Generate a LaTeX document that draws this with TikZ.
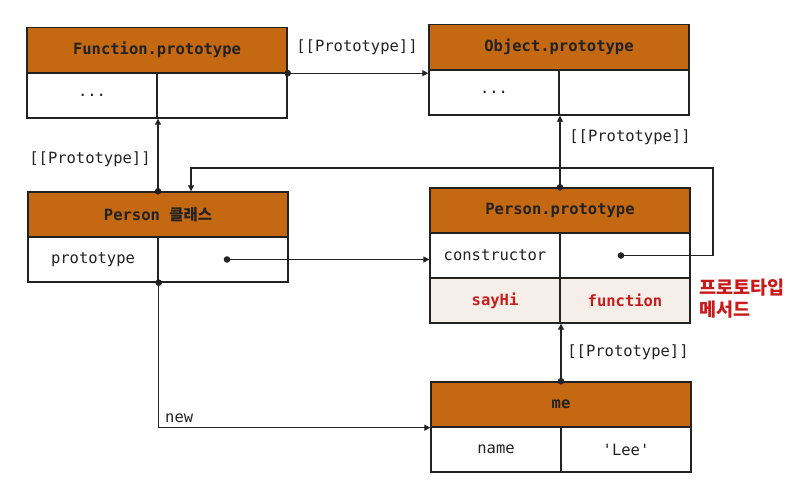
\documentclass[tikz,border=0pt]{standalone}
\usepackage{fontspec}
\setmonofont{DejaVu Sans Mono}
\newfontfamily\kr{Noto Sans CJK KR}
\usetikzlibrary{arrows.meta}
\definecolor{hdr}{RGB}{197,104,18}
\definecolor{lightrow}{RGB}{246,239,233}
\definecolor{redtxt}{RGB}{200,28,28}
\definecolor{ink}{RGB}{34,34,34}
\begin{document}
\begin{tikzpicture}[x=1pt,y=-1pt,
  hdrbox/.style={draw=ink, line width=1.4pt, fill=hdr, minimum width=260pt, minimum height=45pt, inner sep=0pt, text=ink, font=\ttfamily\bfseries\fontsize{15.5}{18}\selectfont},
  cellbox/.style={draw=ink, line width=1.4pt, fill=white, minimum width=130pt, minimum height=45pt, inner sep=0pt, text=ink, font=\ttfamily\fontsize{15.5}{18}\selectfont},
  redcell/.style={cellbox, fill=lightrow, text=redtxt, font=\ttfamily\bfseries\fontsize{15.5}{18}\selectfont},
  conn/.style={draw=ink, line width=1.3pt, -{Triangle[length=6pt,width=6pt]}},
  lbl/.style={text=ink, inner sep=0pt, font=\ttfamily\fontsize{15.5}{18}\selectfont},
  dotfill/.style={fill=ink}]
\useasboundingbox (0,0) rectangle (803,486);
% Function.prototype
\node[cellbox] (fpl) at (92,95.5) {...};
\node[cellbox] (fpr) at (222,95.5) {};
\node[hdrbox] (fph) at (157,50) {Function.prototype};
% Object.prototype
\node[cellbox] (opl) at (494,92.5) {...};
\node[cellbox] (opr) at (624,92.5) {};
\node[hdrbox] (oph) at (559,47) {Object.prototype};
% Person class
\node[cellbox] (pcl) at (93,259.5) {prototype};
\node[cellbox] (pcr) at (223,259.5) {};
\node[hdrbox] (pch) at (158,214.5) {Person {\kr\bfseries 클래스}};
% Person.prototype
\node[cellbox] (ppl1) at (495,255.5) {constructor};
\node[cellbox] (ppr1) at (625,255.5) {};
\node[redcell] (ppl2) at (495,300.5) {sayHi};
\node[redcell] (ppr2) at (625,300.5) {function};
\node[hdrbox] (pph) at (560,210.5) {Person.prototype};
% me
\node[cellbox] (mel) at (496,449.5) {name};
\node[cellbox] (mer) at (626,449.5) {'Lee'};
\node[hdrbox] (meh) at (561,404.5) {me};
% red label
\node[text=redtxt, align=left, anchor=north west, inner sep=0pt, font=\kr\bfseries\fontsize{18.5}{22}\selectfont] (lblm) at (699,279) {프로토타입\\메서드};
% labels
\node[lbl] (l1) at (357,47) {[[Prototype]]};
\node[lbl] (l2) at (90,159) {[[Prototype]]};
\node[lbl] (l3) at (630,137) {[[Prototype]]};
\node[lbl] (l4) at (628,352) {[[Prototype]]};
\node[lbl, anchor=south west] (l5) at (165,423) {new};
% connectors
\coordinate (c1) at (713,168);
\draw[conn] (fph.south east) -- (fph.south east -| opl.west);
\draw[conn] (pch.north) -- (pch.north |- fpl.south);
\draw[conn] (pph.north) -- (pph.north |- opl.south);
\draw[conn] (meh.north) -- (meh.north |- ppr2.south);
\draw[conn] ([xshift=4pt]pcr.center) -- (pcr.center -| ppl1.west);
\draw[conn] ([xshift=-4pt]ppr1.center) -| (c1) -| ([xshift=33pt]pch.north);
\draw[conn] (pcl.south east) |- (meh.south west);
% dots
\fill[dotfill] (fph.south east) circle (3.3pt);
\fill[dotfill] (pch.north) circle (3.3pt);
\fill[dotfill] (pph.north) circle (3.3pt);
\fill[dotfill] (meh.north) circle (3.3pt);
\fill[dotfill] ([xshift=4pt]pcr.center) circle (3.3pt);
\fill[dotfill] ([xshift=-4pt]ppr1.center) circle (3.3pt);
\fill[dotfill] (pcl.south east) circle (3.3pt);
\end{tikzpicture}
\end{document}
